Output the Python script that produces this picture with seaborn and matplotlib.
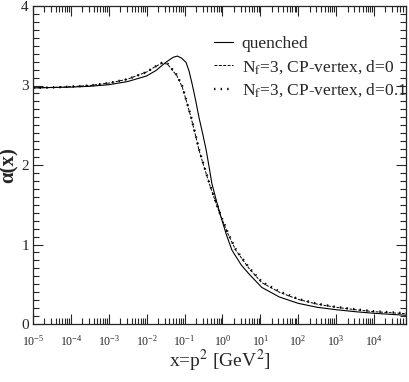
import numpy as np
import pandas as pd
import matplotlib
matplotlib.use("Agg")
import matplotlib.pyplot as plt
import seaborn as sns
from matplotlib.ticker import LogLocator, MultipleLocator, NullFormatter

# ============================
# Data
# ============================
logx_q = [-5.0, -4.5, -4.0, -3.5, -3.0, -2.5, -2.0, -1.75, -1.5, -1.3, -1.19,
          -1.08, -0.96, -0.88, -0.80, -0.71, -0.62, -0.52, -0.43, -0.35, -0.28,
          -0.16, -0.04, 0.1, 0.25, 0.5, 0.7, 1.04, 1.5, 2.0, 2.5, 3.0, 3.5,
          4.0, 4.5, 4.85]
alpha_q = [2.97, 2.975, 2.98, 2.99, 3.01, 3.05, 3.12, 3.19, 3.29, 3.355, 3.37,
           3.345, 3.29, 3.18, 3.02, 2.82, 2.60, 2.39, 2.19, 1.97, 1.77,
           1.55, 1.35, 1.13, 0.93, 0.74, 0.63, 0.46, 0.34, 0.26, 0.21, 0.18,
           0.155, 0.135, 0.12, 0.11]

logx_d0 = [-5.0, -4.5, -4.0, -3.5, -3.0, -2.5, -2.0, -1.8, -1.6, -1.45,
           -1.35, -1.2, -1.06, -0.95, -0.83, -0.72, -0.62, -0.48, -0.35,
           -0.2, -0.04, 0.15, 0.35, 0.7, 1.04, 1.5, 2.0, 2.5, 3.0, 3.5,
           4.0, 4.5, 4.85]
alpha_d0 = [2.97, 2.975, 2.985, 3.0, 3.03, 3.08, 3.17, 3.23, 3.28, 3.27,
            3.21, 3.12, 2.98, 2.80, 2.60, 2.39, 2.19, 1.97, 1.77,
            1.56, 1.35, 1.13, 0.93, 0.70, 0.52, 0.40, 0.31, 0.25, 0.21, 0.18,
            0.155, 0.14, 0.13]

logx_d01 = [-5.0, -4.5, -4.0, -3.5, -3.0, -2.5, -2.0, -1.8, -1.6, -1.45,
            -1.35, -1.2, -1.06, -0.95, -0.83, -0.72, -0.62, -0.48, -0.35,
            -0.2, -0.04, 0.15, 0.35, 0.7, 1.04, 1.5, 2.0, 2.5, 3.0, 3.5,
            4.0, 4.5, 4.85]
alpha_d01 = [2.97, 2.975, 2.985, 3.0, 3.03, 3.08, 3.17, 3.23, 3.285, 3.275,
             3.22, 3.13, 2.99, 2.81, 2.61, 2.40, 2.20, 1.98, 1.78,
             1.57, 1.36, 1.14, 0.94, 0.71, 0.53, 0.41, 0.315, 0.255, 0.215,
             0.185, 0.16, 0.145, 0.135]

labels = ["quenched", r"N$_{\rm f}$=3, CP-vertex, d=0",
          r"N$_{\rm f}$=3, CP-vertex, d=0.1"]

# ============================
# Style
# ============================
sns.set_style("ticks")
plt.rcParams["font.family"] = ["Liberation Serif", "DejaVu Serif"]
plt.rcParams["mathtext.fontset"] = "stix"
plt.rcParams["xtick.direction"] = "in"
plt.rcParams["ytick.direction"] = "in"

fig = plt.figure(figsize=(4.09, 3.82), dpi=100)
ax = fig.add_axes([33 / 409, 58 / 382, 373 / 409, 318 / 382])

sns.lineplot(x=10 ** np.array(logx_q), y=alpha_q, ax=ax, color="black",
             linewidth=0.8, label=labels[0], sort=False)
sns.lineplot(x=10 ** np.array(logx_d0), y=alpha_d0, ax=ax, color="black",
             linewidth=0.7, linestyle=(0, (3, 1.5)), label=labels[1], sort=False)
sns.lineplot(x=10 ** np.array(logx_d01), y=alpha_d01, ax=ax, color="black",
             linewidth=1.7, linestyle=(0, (0.6, 2.2)), label=labels[2],
             sort=False)

ax.set_xscale("log")
ax.set_xlim(1e-5, 7e4)
ax.set_ylim(0, 4)

ax.xaxis.set_major_locator(LogLocator(base=10, numticks=20))
ax.xaxis.set_minor_locator(LogLocator(base=10, subs=np.arange(2, 10), numticks=20))
ax.xaxis.set_minor_formatter(NullFormatter())
ax.yaxis.set_major_locator(MultipleLocator(1))
ax.yaxis.set_minor_locator(MultipleLocator(0.1))

ax.tick_params(which="both", top=True, right=True, width=0.8)
ax.tick_params(which="major", length=7)
ax.tick_params(which="minor", length=4)
ax.tick_params(axis="x", labelsize=8.5, pad=7)
ax.tick_params(axis="y", labelsize=11, pad=3)
for s in ax.spines.values():
    s.set_linewidth(0.9)

ax.set_xlabel(r"x=p$^2$ [GeV$^2$]", fontsize=14, labelpad=0)
ax.set_ylabel("α(x)", fontsize=15, fontweight="bold", labelpad=2)

leg = ax.legend(loc="upper right", bbox_to_anchor=(1.03, 0.94), frameon=False,
                fontsize=12.5, handlelength=1.1, handletextpad=0.5,
                labelspacing=0.35, borderaxespad=0.2)

fig.savefig("out.png", dpi=100)
